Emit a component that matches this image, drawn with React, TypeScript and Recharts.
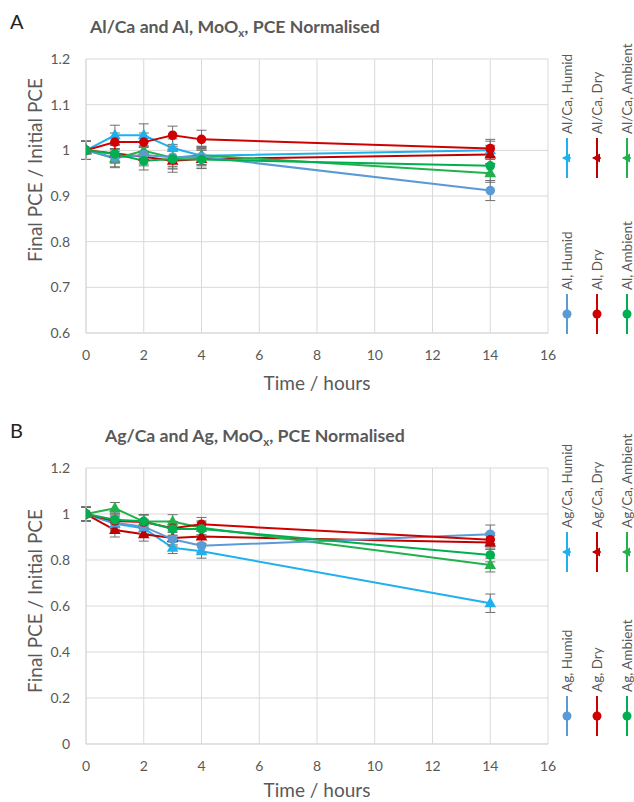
import React from 'react';
import { LineChart, Line, XAxis, YAxis, CartesianGrid, ErrorBar, Legend, Label } from 'recharts';

const FONT = 'Lato, "Open Sans", "Liberation Sans", sans-serif';
const TEXT = '#595959';
const GRID = '#d9d9d9';

// shared x values (hours) and ticks
const hours = [0, 1, 2, 3, 4, 14];
const xTicks = [0, 2, 4, 6, 8, 10, 12, 14, 16];
const yTicksA = [0.6, 0.7, 0.8, 0.9, 1, 1.1, 1.2];
const yTicksB = [0, 0.2, 0.4, 0.6, 0.8, 1, 1.2];

// Chart A: Al/Ca (triangles) and Al (circles)
const alcaHumid = [1.0, 1.033, 1.033, 1.005, 0.988, 1.0];
const alcaHumidErr = [0.02, 0.022, 0.025, 0.02, 0.02, 0.02];
const alcaDry = [1.0, 0.993, 0.986, 0.977, 0.981, 0.991];
const alcaDryErr = [0.02, 0.02, 0.02, 0.025, 0.02, 0.02];
const alcaAmbient = [1.0, 0.982, 0.999, 0.984, 0.989, 0.95];
const alcaAmbientErr = [0.02, 0.02, 0.02, 0.025, 0.02, 0.02];
const alHumid = [1.0, 0.984, 0.99, 0.985, 0.986, 0.912];
const alHumidErr = [0.02, 0.02, 0.02, 0.02, 0.02, 0.022];
const alDry = [1.0, 1.018, 1.018, 1.033, 1.024, 1.004];
const alDryErr = [0.02, 0.02, 0.02, 0.02, 0.02, 0.02];
const alAmbient = [1.0, 0.992, 0.977, 0.981, 0.98, 0.966];
const alAmbientErr = [0.02, 0.02, 0.02, 0.02, 0.02, 0.02];

// Chart B: Ag/Ca (triangles) and Ag (circles)
const agcaHumid = [1.0, 0.957, 0.938, 0.853, 0.838, 0.612];
const agcaHumidErr = [0.03, 0.03, 0.03, 0.025, 0.03, 0.04];
const agcaDry = [1.0, 0.93, 0.912, 0.896, 0.902, 0.876];
const agcaDryErr = [0.03, 0.03, 0.03, 0.03, 0.03, 0.03];
const agcaAmbient = [1.0, 1.025, 0.967, 0.967, 0.94, 0.778];
const agcaAmbientErr = [0.03, 0.025, 0.03, 0.03, 0.03, 0.03];
const agHumid = [1.0, 0.962, 0.945, 0.89, 0.862, 0.912];
const agHumidErr = [0.03, 0.03, 0.03, 0.03, 0.03, 0.04];
const agDry = [1.0, 0.97, 0.965, 0.938, 0.955, 0.888];
const agDryErr = [0.03, 0.03, 0.03, 0.03, 0.03, 0.03];
const agAmbient = [1.0, 0.975, 0.968, 0.935, 0.935, 0.822];
const agAmbientErr = [0.03, 0.03, 0.03, 0.03, 0.03, 0.03];

const C_HUMID_TRI = '#1fb0ee';
const C_HUMID_CIR = '#5b9bd5';
const C_DRY_TRI = '#c00000';
const C_DRY_CIR = '#d00000';
const C_AMB_TRI = '#22b24c';
const C_AMB_CIR = '#00b050';

type Series = { key: string; name: string; values: number[]; errors: number[]; color: string; shape: 'triangle' | 'circle' };

const seriesA: Series[] = [
  { key: 'alcaHumid', name: 'Al/Ca, Humid', values: alcaHumid, errors: alcaHumidErr, color: C_HUMID_TRI, shape: 'triangle' },
  { key: 'alcaDry', name: 'Al/Ca, Dry', values: alcaDry, errors: alcaDryErr, color: C_DRY_TRI, shape: 'triangle' },
  { key: 'alcaAmbient', name: 'Al/Ca, Ambient', values: alcaAmbient, errors: alcaAmbientErr, color: C_AMB_TRI, shape: 'triangle' },
  { key: 'alHumid', name: 'Al, Humid', values: alHumid, errors: alHumidErr, color: C_HUMID_CIR, shape: 'circle' },
  { key: 'alDry', name: 'Al, Dry', values: alDry, errors: alDryErr, color: C_DRY_CIR, shape: 'circle' },
  { key: 'alAmbient', name: 'Al, Ambient', values: alAmbient, errors: alAmbientErr, color: C_AMB_CIR, shape: 'circle' },
];

const seriesB: Series[] = [
  { key: 'agcaHumid', name: 'Ag/Ca, Humid', values: agcaHumid, errors: agcaHumidErr, color: C_HUMID_TRI, shape: 'triangle' },
  { key: 'agcaDry', name: 'Ag/Ca, Dry', values: agcaDry, errors: agcaDryErr, color: C_DRY_TRI, shape: 'triangle' },
  { key: 'agcaAmbient', name: 'Ag/Ca, Ambient', values: agcaAmbient, errors: agcaAmbientErr, color: C_AMB_TRI, shape: 'triangle' },
  { key: 'agHumid', name: 'Ag, Humid', values: agHumid, errors: agHumidErr, color: C_HUMID_CIR, shape: 'circle' },
  { key: 'agDry', name: 'Ag, Dry', values: agDry, errors: agDryErr, color: C_DRY_CIR, shape: 'circle' },
  { key: 'agAmbient', name: 'Ag, Ambient', values: agAmbient, errors: agAmbientErr, color: C_AMB_CIR, shape: 'circle' },
];

function buildRows(series: Series[]) {
  return hours.map((t, i) => {
    const row: Record<string, number> = { t };
    series.forEach((s) => {
      row[s.key] = s.values[i];
      row[s.key + 'Err'] = s.errors[i];
    });
    return row;
  });
}

const makeDot = (shape: string, color: string) => (props: any) => {
  const { cx, cy, index } = props;
  if (cx == null || cy == null) return <g key={index} />;
  if (shape === 'circle') return <circle key={index} cx={cx} cy={cy} r={4.8} fill={color} />;
  return <path key={index} d={`M${cx},${cy - 6.5}L${cx + 5.8},${cy + 4}L${cx - 5.8},${cy + 4}Z`} fill={color} />;
};

function LegendColumn({ series, groupCy, chartHeight }: { series: Series[]; groupCy: number[]; chartHeight: number }) {
  const xs = [19, 49, 79];
  return (
    <svg width={86} height={chartHeight} style={{ display: 'block', overflow: 'visible' }}>
      {series.map((s, i) => {
        const g = i < 3 ? 0 : 1;
        const cx = xs[i % 3];
        const cy = groupCy[g];
        return (
          <g key={s.key}>
            <text
              transform={`translate(${cx + 4.8},${cy - 24}) rotate(-90)`}
              fontSize={13.5}
              fontFamily={FONT}
              fill={TEXT}
            >
              {s.name}
            </text>
            <line x1={cx} y1={cy - 20} x2={cx} y2={cy + 20} stroke={s.color} strokeWidth={2} />
            <line x1={cx - 4} y1={cy} x2={cx + 4} y2={cy} stroke={s.color} strokeWidth={1.5} />
            {s.shape === 'circle' ? (
              <circle cx={cx} cy={cy} r={4.5} fill={s.color} />
            ) : (
              <path d={`M${cx - 5},${cy}L${cx + 3},${cy - 4.5}L${cx + 3},${cy + 4.5}Z`} fill={s.color} />
            )}
          </g>
        );
      })}
    </svg>
  );
}

function Panel({ series, yDomain, yTicks, height, marginTop, marginBottom, groupCy, yLabelCy, xLabelY }: any) {
  const rows = buildRows(series);
  return (
    <LineChart
      width={634}
      height={height}
      data={rows}
      margin={{ top: marginTop, right: 86, bottom: marginBottom, left: 0 }}
    >
      <CartesianGrid stroke={GRID} strokeWidth={1} />
      <XAxis
        dataKey="t"
        type="number"
        domain={[0, 16]}
        ticks={xTicks}
        interval={0}
        allowDataOverflow
        height={30}
        tickLine={false}
        tickMargin={11}
        axisLine={{ stroke: GRID }}
        tick={{ fill: TEXT, fontSize: 14, fontFamily: FONT }}
      >
        <Label
          content={() => (
            <text x={317} y={xLabelY} textAnchor="middle" dominantBaseline="central" fontSize={19} fontFamily={FONT} fill={TEXT}>
              Time / hours
            </text>
          )}
        />
      </XAxis>
      <YAxis
        type="number"
        domain={yDomain}
        ticks={yTicks}
        interval={0}
        allowDataOverflow
        width={86}
        tickLine={false}
        tickMargin={10}
        axisLine={{ stroke: GRID }}
        tickFormatter={(v: number) => String(v)}
        tick={{ fill: TEXT, fontSize: 14, fontFamily: FONT }}
      >
        <Label
          content={() => (
            <text
              transform={`translate(34,${yLabelCy}) rotate(-90)`}
              textAnchor="middle"
              dominantBaseline="central"
              fontSize={19}
              fontFamily={FONT}
              fill={TEXT}
            >
              Final PCE / Initial PCE
            </text>
          )}
        />
      </YAxis>
      <Legend
        layout="horizontal"
        verticalAlign="middle"
        align="center"
        wrapperStyle={{ position: 'absolute', left: 548, top: 0, width: 86, height: height }}
        content={() => <LegendColumn series={series} groupCy={groupCy} chartHeight={height} />}
      />
      {series.map((s: Series) => (
        <Line
          key={s.key}
          dataKey={s.key}
          name={s.name}
          stroke={s.color}
          strokeWidth={2}
          type="linear"
          dot={makeDot(s.shape, s.color)}
          activeDot={false}
          isAnimationActive={false}
          legendType="none"
        >
          <ErrorBar dataKey={s.key + 'Err'} width={5} strokeWidth={1} stroke="#707070" direction="y" isAnimationActive={false} />
        </Line>
      ))}
    </LineChart>
  );
}

const titleStyle: React.CSSProperties = {
  position: 'absolute',
  fontFamily: FONT,
  fontWeight: 700,
  fontSize: 17.7,
  color: TEXT,
  lineHeight: '20px',
  whiteSpace: 'nowrap',
};
const letterStyle: React.CSSProperties = {
  position: 'absolute',
  fontFamily: FONT,
  fontSize: 20,
  color: '#222',
  lineHeight: '24px',
};
const subStyle: React.CSSProperties = { fontSize: '0.65em', position: 'relative', top: '0.35em', lineHeight: 0 };

export default function App() {
  return (
    <div style={{ position: 'absolute', left: 0, top: 0, width: 634, height: 802, background: '#fff', overflow: 'hidden' }}>
      <div style={{ position: 'absolute', left: 0, top: 0 }}>
        <Panel
          series={seriesA}
          yDomain={[0.6, 1.2]}
          yTicks={yTicksA}
          height={400}
          marginTop={59}
          marginBottom={37}
          groupCy={[158, 314]}
          yLabelCy={170}
          xLabelY={382}
        />
      </div>
      <div style={{ position: 'absolute', left: 0, top: 410 }}>
        <Panel
          series={seriesB}
          yDomain={[0, 1.2]}
          yTicks={yTicksB}
          height={392}
          marginTop={58}
          marginBottom={28}
          groupCy={[552 - 410, 716 - 410]}
          yLabelCy={601 - 410}
          xLabelY={379}
        />
      </div>
      <div style={{ ...letterStyle, left: 10, top: 9 }}>A</div>
      <div style={{ ...titleStyle, left: 90, top: 17 }}>
        Al/Ca and Al, MoO<span style={subStyle}>x</span>, PCE Normalised
      </div>
      <div style={{ ...letterStyle, left: 10, top: 418 }}>B</div>
      <div style={{ ...titleStyle, left: 105, top: 426 }}>
        Ag/Ca and Ag, MoO<span style={subStyle}>x</span>, PCE Normalised
      </div>
    </div>
  );
}
